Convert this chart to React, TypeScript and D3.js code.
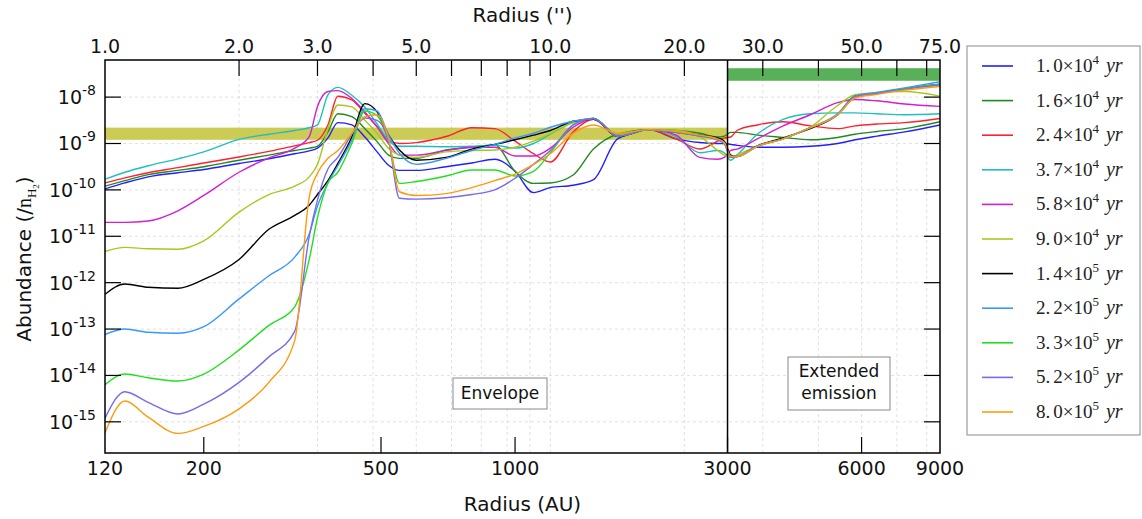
import React from 'react';
import * as d3 from 'd3';

// ---------- data ----------
const radiusAU = [120, 133, 150, 175, 200, 240, 280, 320, 345, 360, 380, 400, 430, 460, 490, 520, 550, 600, 700, 800, 900, 1000, 1100, 1200, 1350, 1500, 1700, 2000, 2300, 2600, 2850, 2950, 3050, 3150, 3500, 4000, 4600, 5300, 5800, 6500, 7500, 9000];

// log10 of abundance (/n_H2) at each radius
const logAb_1_0e4 = [-9.98, -9.85, -9.72, -9.63, -9.56, -9.43, -9.33, -9.22, -9.16, -9.10, -8.88, -8.55, -8.60, -8.86, -9.18, -9.47, -9.58, -9.58, -9.50, -9.42, -9.34, -9.60, -10.06, -9.95, -9.90, -9.78, -8.90, -8.70, -8.90, -8.98, -9.00, -9.00, -9.02, -9.04, -9.08, -9.08, -9.06, -9.00, -8.92, -8.84, -8.75, -8.60];
const logAb_1_6e4 = [-9.92, -9.80, -9.67, -9.58, -9.50, -9.36, -9.25, -9.15, -9.10, -9.06, -8.75, -8.36, -8.42, -8.68, -8.96, -9.25, -9.32, -9.32, -9.14, -9.08, -9.03, -9.60, -9.86, -9.85, -9.68, -9.12, -8.80, -8.70, -8.72, -8.78, -8.86, -8.84, -8.76, -8.76, -8.82, -8.87, -8.92, -8.87, -8.80, -8.74, -8.68, -8.53];
const logAb_2_4e4 = [-9.85, -9.74, -9.63, -9.52, -9.42, -9.29, -9.17, -9.05, -8.98, -8.93, -8.60, -7.98, -8.06, -8.35, -8.64, -8.93, -9.00, -8.98, -8.85, -8.66, -8.68, -8.95, -9.22, -9.40, -8.75, -8.48, -8.82, -8.70, -8.90, -9.12, -8.95, -8.88, -8.86, -8.72, -8.60, -8.53, -8.62, -8.68, -8.62, -8.58, -8.55, -8.46];
const logAb_3_7e4 = [-9.77, -9.62, -9.48, -9.33, -9.18, -8.91, -8.80, -8.72, -8.66, -8.60, -7.95, -7.79, -7.96, -8.22, -8.58, -8.94, -9.06, -9.06, -9.07, -9.06, -9.04, -9.10, -9.00, -8.80, -8.55, -8.46, -8.82, -8.70, -8.85, -9.20, -9.15, -9.20, -9.36, -9.25, -8.80, -8.48, -8.36, -8.34, -8.34, -8.36, -8.38, -8.36];
const logAb_5_8e4 = [-10.70, -10.70, -10.67, -10.45, -10.12, -9.62, -9.31, -9.10, -8.85, -8.20, -7.88, -7.86, -8.03, -8.32, -8.64, -9.00, -9.25, -9.25, -9.15, -9.08, -9.08, -9.27, -9.27, -9.10, -8.65, -8.46, -8.82, -8.70, -8.82, -9.30, -9.34, -9.30, -9.15, -9.12, -8.90, -8.62, -8.38, -8.12, -8.05, -8.08, -8.15, -8.20];
const logAb_9_0e4 = [-11.33, -11.24, -11.27, -11.28, -11.10, -10.48, -10.10, -9.92, -9.72, -9.45, -8.68, -8.17, -8.21, -8.50, -8.78, -9.11, -9.25, -9.30, -9.18, -9.15, -9.14, -9.08, -8.95, -8.78, -8.55, -8.46, -8.82, -8.70, -8.72, -8.85, -9.15, -9.25, -9.30, -9.25, -9.05, -8.88, -8.65, -8.18, -7.95, -7.90, -7.88, -7.98];
const logAb_1_4e5 = [-12.25, -12.03, -12.10, -12.12, -11.93, -11.50, -10.85, -10.55, -10.33, -10.10, -9.80, -9.43, -8.86, -8.14, -8.32, -8.82, -9.14, -9.36, -9.30, -9.12, -9.02, -8.92, -8.82, -8.72, -8.52, -8.48, -8.85, -8.70, -8.76, -8.82, -8.88, -8.95, -9.25, -9.28, -9.05, -8.88, -8.68, -8.38, -7.98, -7.92, -7.82, -7.72];
const logAb_2_2e5 = [-13.12, -13.00, -13.07, -13.09, -12.95, -12.35, -11.85, -11.45, -10.95, -10.35, -9.85, -9.48, -8.93, -8.25, -8.30, -8.82, -9.21, -9.45, -9.32, -9.15, -9.02, -8.88, -8.78, -8.65, -8.52, -8.46, -8.84, -8.70, -8.76, -8.84, -8.92, -9.00, -9.28, -9.28, -9.06, -8.90, -8.66, -8.36, -7.98, -7.90, -7.80, -7.67];
const logAb_3_3e5 = [-14.20, -13.97, -14.05, -14.12, -13.97, -13.45, -12.92, -12.52, -11.50, -10.60, -9.85, -9.62, -9.00, -8.30, -8.40, -8.95, -9.86, -9.82, -9.70, -9.57, -9.57, -9.70, -9.60, -9.20, -8.60, -8.46, -8.84, -8.70, -8.76, -8.84, -8.92, -9.00, -9.28, -9.28, -9.06, -8.90, -8.66, -8.38, -8.00, -7.92, -7.82, -7.72];
const logAb_5_2e5 = [-14.92, -14.35, -14.58, -14.83, -14.62, -14.15, -13.60, -13.05, -11.00, -10.22, -9.55, -9.30, -8.80, -8.45, -8.50, -8.95, -10.18, -10.20, -10.17, -10.10, -10.00, -9.75, -9.45, -9.15, -8.60, -8.46, -8.84, -8.70, -8.76, -8.84, -8.92, -9.00, -9.30, -9.28, -9.06, -8.90, -8.66, -8.38, -8.00, -7.92, -7.83, -7.74];
const logAb_8_0e5 = [-15.24, -14.55, -14.90, -15.25, -15.10, -14.72, -14.15, -13.25, -10.15, -9.64, -9.32, -9.15, -8.78, -8.42, -8.38, -8.90, -10.04, -10.12, -10.08, -9.95, -9.80, -9.66, -9.45, -9.22, -8.78, -8.60, -8.78, -8.70, -8.74, -8.82, -8.90, -8.98, -9.28, -9.28, -9.06, -8.90, -8.66, -8.38, -8.02, -7.94, -7.85, -7.77];

const seriesValues = [logAb_1_0e4, logAb_1_6e4, logAb_2_4e4, logAb_3_7e4, logAb_5_8e4, logAb_9_0e4, logAb_1_4e5, logAb_2_2e5, logAb_3_3e5, logAb_5_2e5, logAb_8_0e5];
const legendMantissa = ['1.0', '1.6', '2.4', '3.7', '5.8', '9.0', '1.4', '2.2', '3.3', '5.2', '8.0'];
const legendExponent = ['4', '4', '4', '4', '4', '4', '5', '5', '5', '5', '5'];
const seriesColors = ['#2020ff', '#1f8a1f', '#ff2030', '#1fbfbf', '#d020d0', '#a8c81e', '#000000', '#3a96ff', '#20e020', '#7b68ee', '#ff9a10'];

const bottomTicks = [120, 200, 500, 1000, 3000, 6000, 9000];
const topLabelTicks = [1, 2, 3, 5, 10, 20, 30, 50, 75];
const topTickMarks = [2, 3, 4, 5, 6, 7, 8, 9, 10, 20, 30, 40, 50, 60, 70];
const yDecades = [-8, -9, -10, -11, -12, -13, -14, -15];
const auPerArcsec = 120;
const envelopeBand = [1.2e-9, 2.2e-9];
const extendedBand = [2.25e-8, 4.2e-8];
const boundaryAU = 3000;

export default function App() {
  const W = 1142, H = 519;
  const L = 105, R = 940, T = 60, B = 453;
  const x = d3.scaleLog().domain([120, 9000]).range([L, R]);
  const xTop = d3.scaleLog().domain([120 / auPerArcsec, 9000 / auPerArcsec]).range([L, R]);
  const y = d3.scaleLog().domain([Math.pow(10, -15.672), Math.pow(10, -7.2)]).range([B, T]);
  const line = d3.line<[number, number]>()
    .x(d => x(d[0]))
    .y(d => y(d[1]))
    .curve(d3.curveMonotoneX);

  const sans = 'DejaVu Sans';
  const serif = 'Liberation Serif';
  const tickLen = 16;
  const grid = '#d4d4d4';

  return (
    <svg width={W} height={H} style={{ position: 'absolute', left: 0, top: 0, background: '#fff' }}>
      {/* grid */}
      {yDecades.map(e => (
        <line key={'hg' + e} x1={L} x2={R} y1={y(Math.pow(10, e))} y2={y(Math.pow(10, e))}
          stroke={grid} strokeWidth={0.7} strokeDasharray="3,3" />
      ))}
      {topTickMarks.map(t => (
        <line key={'vg' + t} x1={xTop(t)} x2={xTop(t)} y1={T} y2={B}
          stroke={grid} strokeWidth={0.7} strokeDasharray="3,3" />
      ))}
      {/* bands */}
      <rect x={L} width={x(boundaryAU) - L} y={y(envelopeBand[1])} height={y(envelopeBand[0]) - y(envelopeBand[1])}
        fill="#c2c238" opacity={0.85} />
      <rect x={x(boundaryAU)} width={R - x(boundaryAU)} y={y(extendedBand[1])} height={y(extendedBand[0]) - y(extendedBand[1])}
        fill="#46a846" opacity={0.9} />
      {/* series */}
      <g clipPath="url(#plotclip)">
        {seriesValues.map((vals, i) => {
          const pts: [number, number][] = radiusAU.map((r, j) => [r, Math.pow(10, vals[j])]);
          return <path key={'s' + i} d={line(pts) || ''} fill="none" stroke={seriesColors[i]} strokeWidth={1.4} />;
        })}
      </g>
      <defs>
        <clipPath id="plotclip"><rect x={L} y={T} width={R - L} height={B - T} /></clipPath>
      </defs>
      {/* boundary */}
      <line x1={x(boundaryAU)} x2={x(boundaryAU)} y1={T} y2={B} stroke="#000" strokeWidth={1.5} />
      {/* frame */}
      <rect x={L} y={T} width={R - L} height={B - T} fill="none" stroke="#000" strokeWidth={1.5} />
      {/* top ticks */}
      {topTickMarks.map(t => (
        <line key={'tt' + t} x1={xTop(t)} x2={xTop(t)} y1={T} y2={T + tickLen} stroke="#000" strokeWidth={1.2} />
      ))}
      {topLabelTicks.map(t => (
        <text key={'tl' + t} x={xTop(t)} y={T - 7} textAnchor="middle" fontFamily={sans} fontSize={19} fill="#111">
          {t.toFixed(1)}
        </text>
      ))}
      {/* bottom ticks */}
      {bottomTicks.map(t => (
        <g key={'bt' + t}>
          {t > 120 && t < 9000 && (
            <line x1={x(t)} x2={x(t)} y1={B} y2={B - tickLen} stroke="#000" strokeWidth={1.2} />
          )}
          <text x={x(t)} y={B + 22} textAnchor="middle" fontFamily={sans} fontSize={19} fill="#111">{t}</text>
        </g>
      ))}
      {/* y ticks */}
      {yDecades.map(e => {
        const yy = y(Math.pow(10, e));
        return (
          <g key={'yt' + e}>
            <line x1={L} x2={L + tickLen} y1={yy} y2={yy} stroke="#000" strokeWidth={1.2} />
            <line x1={R} x2={R - tickLen} y1={yy} y2={yy} stroke="#000" strokeWidth={1.2} />
            <text x={96} y={yy + 7} textAnchor="end" fontFamily={sans} fontSize={19} fill="#111">
              10<tspan fontSize={14} dy={-9}>{String(e)}</tspan>
            </text>
          </g>
        );
      })}
      {/* axis titles */}
      <text x={(L + R) / 2} y={22} textAnchor="middle" fontFamily={sans} fontSize={20} fill="#111">Radius ('')</text>
      <text x={(L + R) / 2} y={511} textAnchor="middle" fontFamily={sans} fontSize={20} fill="#111">Radius (AU)</text>
      <text transform="translate(31,259) rotate(-90)" textAnchor="middle" fontFamily={sans} fontSize={20} fill="#111">
        Abundance (/<tspan fontFamily={serif} fontSize={20}>n</tspan>
        <tspan fontFamily={serif} fontSize={13} dy={5}>H</tspan>
        <tspan fontFamily={serif} fontSize={9} dy={3}>2</tspan>
        <tspan dy={-8}>)</tspan>
      </text>
      {/* annotations */}
      <rect x={453} y={378} width={94} height={31} fill="#fff" stroke="#8a8a8a" strokeWidth={1} />
      <text x={500} y={399} textAnchor="middle" fontFamily={sans} fontSize={17} fill="#111">Envelope</text>
      <rect x={788} y={357} width={102} height={53} fill="#fff" stroke="#8a8a8a" strokeWidth={1} />
      <text x={839} y={377} textAnchor="middle" fontFamily={sans} fontSize={17} fill="#111">Extended</text>
      <text x={839} y={399} textAnchor="middle" fontFamily={sans} fontSize={17} fill="#111">emission</text>
      {/* legend */}
      <rect x={967} y={46} width={173} height={389} fill="#fff" stroke="#8a8a8a" strokeWidth={1} />
      {legendMantissa.map((m, i) => {
        const ly = 66 + i * 34.6;
        return (
          <g key={'lg' + i}>
            <line x1={982} x2={1013} y1={ly} y2={ly} stroke={seriesColors[i]} strokeWidth={1.6} />
            <text x={1036} y={ly + 6} fontFamily={serif} fontSize={19} fill="#222">
              {m.slice(0, 2)}<tspan dx={3}>{m.slice(2)}</tspan>×10<tspan fontSize={13} dy={-8}>{legendExponent[i]}</tspan>
              <tspan dy={8} dx={7} fontStyle="italic" fontSize={20}>yr</tspan>
            </text>
          </g>
        );
      })}
    </svg>
  );
}
